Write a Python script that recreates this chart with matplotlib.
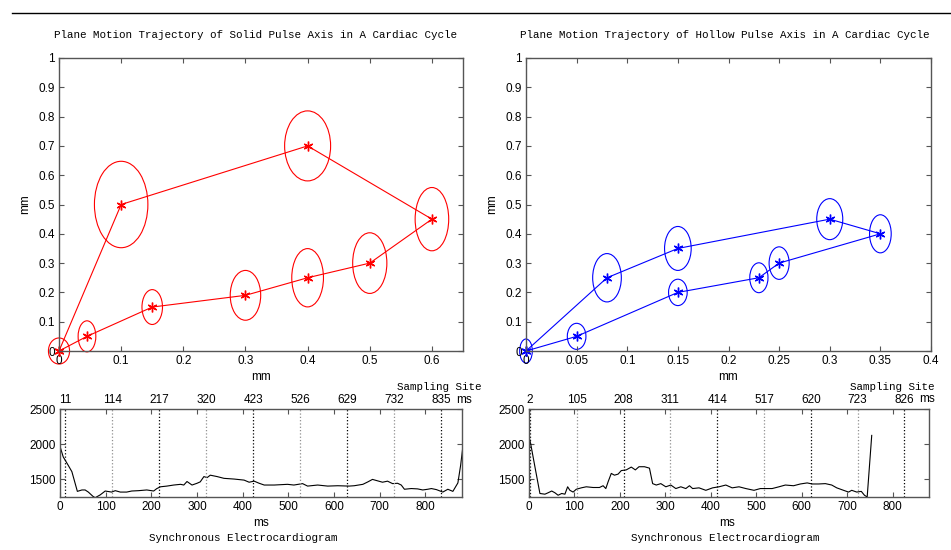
import matplotlib
matplotlib.use("Agg")
import matplotlib.pyplot as plt
from matplotlib.patches import Ellipse
from matplotlib.lines import Line2D

# ---- trajectory data (path order, closed back to origin) ----
solid_x = [0, 0.1, 0.4, 0.6, 0.5, 0.4, 0.3, 0.15, 0.045, 0]
solid_y = [0, 0.5, 0.7, 0.45, 0.3, 0.25, 0.19, 0.15, 0.05, 0]
solid_w = [0.034, 0.086, 0.074, 0.054, 0.055, 0.051, 0.049, 0.033, 0.0285]
solid_h = [0.089, 0.295, 0.239, 0.216, 0.207, 0.199, 0.17, 0.119, 0.106]

hollow_x = [0, 0.08, 0.15, 0.3, 0.35, 0.25, 0.23, 0.15, 0.05, 0]
hollow_y = [0, 0.25, 0.35, 0.45, 0.4, 0.3, 0.25, 0.2, 0.05, 0]
hollow_w = [0.0125, 0.0283, 0.0263, 0.0257, 0.0214, 0.0198, 0.018, 0.0184, 0.0184]
hollow_h = [0.082, 0.165, 0.15, 0.14, 0.13, 0.111, 0.102, 0.09, 0.089]

# ---- ECG data ----
ecg1_t = [0, 7, 18, 26, 38, 48, 55, 62, 72, 77, 88, 99, 113, 121, 132, 146, 157,
          172, 190, 205, 212, 220, 234, 249, 264, 271, 278, 289, 300, 307, 315,
          322, 329, 344, 359, 381, 403, 414, 425, 436, 447, 469, 498, 512, 531,
          542, 564, 586, 608, 633, 644, 663, 674, 684, 695, 706, 717, 728, 739,
          747, 754, 769, 783, 794, 805, 813, 824, 838, 849, 860, 871, 877, 882]
ecg1_v = [1970, 1820, 1700, 1610, 1330, 1350, 1350, 1320, 1260, 1240, 1280, 1335,
          1320, 1340, 1320, 1320, 1335, 1340, 1350, 1335, 1370, 1395, 1405, 1420,
          1430, 1420, 1470, 1420, 1445, 1465, 1540, 1525, 1560, 1540, 1515, 1505,
          1490, 1460, 1475, 1445, 1420, 1420, 1430, 1420, 1440, 1405, 1420, 1405,
          1410, 1405, 1410, 1430, 1465, 1500, 1480, 1460, 1475, 1440, 1445, 1420,
          1360, 1370, 1365, 1350, 1360, 1370, 1355, 1320, 1360, 1330, 1450, 1700, 1970]
ecg1_sites = [11, 114, 217, 320, 423, 526, 629, 732, 835]

ecg2_t = [0, 4, 13, 24, 35, 42, 50, 57, 64, 72, 79, 85, 90, 97, 104, 115, 126,
          141, 155, 163, 169, 174, 181, 188, 196, 203, 214, 225, 234, 242, 254,
          265, 272, 280, 290, 301, 312, 323, 334, 345, 353, 360, 374, 389, 404,
          418, 433, 447, 462, 477, 495, 509, 520, 535, 550, 564, 582, 597, 612,
          623, 637, 652, 666, 677, 692, 703, 710, 721, 731, 738, 744, 754]
ecg2_v = [2115, 1995, 1680, 1300, 1290, 1310, 1335, 1310, 1275, 1300, 1290, 1395,
          1345, 1320, 1360, 1380, 1395, 1385, 1385, 1410, 1370, 1465, 1585, 1560,
          1575, 1625, 1635, 1675, 1635, 1680, 1680, 1660, 1440, 1420, 1440, 1395,
          1420, 1370, 1395, 1370, 1410, 1370, 1380, 1345, 1380, 1395, 1420, 1380,
          1395, 1370, 1345, 1370, 1370, 1370, 1395, 1420, 1410, 1435, 1450, 1435,
          1435, 1440, 1420, 1380, 1345, 1320, 1345, 1320, 1330, 1275, 1250, 2125]
ecg2_sites = [2, 105, 208, 311, 414, 517, 620, 723, 826]

W, H = 951, 550
plt.rcParams['font.family'] = ['Liberation Sans', 'DejaVu Sans']
MONO = 'Liberation Mono'
FRAME = '#555555'

fig = plt.figure(figsize=(W / 100, H / 100), dpi=100)
fig.patch.set_facecolor('white')


def box(l, t, r, b):
    return [l / W, 1 - b / H, (r - l) / W, (b - t) / H]


def style(ax):
    for s in ax.spines.values():
        s.set_color(FRAME)
        s.set_linewidth(1.0)
    ax.tick_params(direction='in', length=3.5, width=0.8, colors=FRAME,
                   labelcolor='black', labelsize=8.5, top=True, right=True, pad=3)


def trajectory(rect, xs, ys, ws, hs, color, xticks, xlabels, xmax):
    ax = fig.add_axes(box(*rect))
    ax.plot(xs, ys, color=color, lw=0.8, marker=(6, 2, 0), ms=7, mew=1.0,
            clip_on=False)
    for x, y, w, h in zip(xs[:-1], ys[:-1], ws, hs):
        ax.add_patch(Ellipse((x, y), w, h, fill=False, ec=color, lw=0.8,
                             clip_on=False))
    ax.set_xlim(0, xmax)
    ax.set_ylim(0, 1)
    ax.set_xticks(xticks)
    ax.set_xticklabels(xlabels)
    yt = [i / 10 for i in range(11)]
    ax.set_yticks(yt)
    ax.set_yticklabels(['0'] + ['%.1f' % v for v in yt[1:-1]] + ['1'])
    style(ax)
    return ax


def ecg(rect, t, v, sites):
    ax = fig.add_axes(box(*rect))
    ax.plot(t, v, color='black', lw=0.8)
    for i, s in enumerate(sites):
        ax.axvline(s, color='black' if i % 2 == 0 else '#909090', ls=':', lw=0.9)
    ax.set_xlim(0, 880)
    ax.set_ylim(1250, 2500)
    ax.set_xticks(range(0, 900, 100))
    ax.set_yticks([1500, 2000, 2500])
    style(ax)
    top = ax.secondary_xaxis('top')
    top.set_xticks(sites)
    top.set_xticklabels([str(s) for s in sites])
    top.tick_params(length=0, labelsize=8.5, pad=2)
    top.spines['top'].set_visible(False)
    return ax


trajectory((59, 58, 463, 351), solid_x, solid_y, solid_w, solid_h, '#ff0000',
           [0, 0.1, 0.2, 0.3, 0.4, 0.5, 0.6],
           ['0', '0.1', '0.2', '0.3', '0.4', '0.5', '0.6'], 0.65)
trajectory((526, 58, 931, 351), hollow_x, hollow_y, hollow_w, hollow_h, '#0000ff',
           [0, 0.05, 0.1, 0.15, 0.2, 0.25, 0.3, 0.35, 0.4],
           ['0', '0.05', '0.1', '0.15', '0.2', '0.25', '0.3', '0.35', '0.4'], 0.4)

ecg((60, 409, 462, 497), ecg1_t, ecg1_v, ecg1_sites)
ecg((529, 409, 929, 497), ecg2_t, ecg2_v, ecg2_sites)


def ftext(x, y, s, **kw):
    fig.text(x / W, 1 - y / H, s, **kw)


ftext(256, 35, 'Plane Motion Trajectory of Solid Pulse Axis in A Cardiac Cycle',
      family=MONO, fontsize=7.8, ha='center', va='center')
ftext(725, 35, 'Plane Motion Trajectory of Hollow Pulse Axis in A Cardiac Cycle',
      family=MONO, fontsize=7.8, ha='center', va='center')

for cx, ly_x in ((261, 25), (728, 492)):
    ftext(cx, 377, 'mm', fontsize=8.5, ha='center', va='center')
    ftext(ly_x, 204, 'mm', fontsize=8.5, ha='center', va='center', rotation=90)

ftext(439, 387, 'Sampling Site', family=MONO, fontsize=7.8, ha='center', va='center')
ftext(892, 387, 'Sampling Site', family=MONO, fontsize=7.8, ha='center', va='center')
ftext(456, 400, 'ms', fontsize=8.5, ha='left', va='center')
ftext(919, 399, 'ms', fontsize=8.5, ha='left', va='center')

ftext(261, 523, 'ms', fontsize=8.5, ha='center', va='center')
ftext(727, 523, 'ms', fontsize=8.5, ha='center', va='center')
ftext(243, 538, 'Synchronous Electrocardiogram', family=MONO, fontsize=7.8,
      ha='center', va='center')
ftext(725, 538, 'Synchronous Electrocardiogram', family=MONO, fontsize=7.8,
      ha='center', va='center')

fig.add_artist(Line2D([12 / W, 1], [1 - 13 / H, 1 - 13 / H], color='black', lw=1,
                      transform=fig.transFigure))

fig.savefig('out.png', dpi=100)
